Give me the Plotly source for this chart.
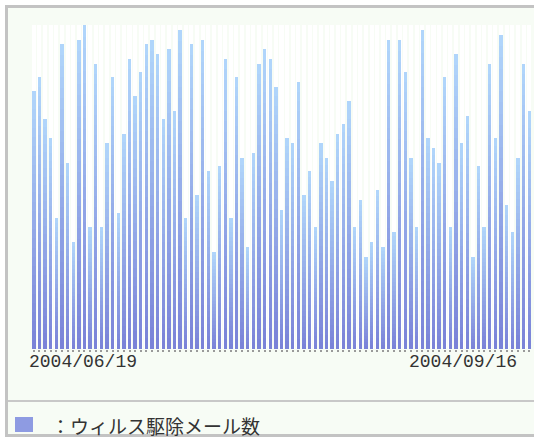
import plotly.graph_objects as go

# ---- data ----
start_label = "2004/06/19"
end_label = "2004/09/16"
legend_label = "：ウィルス駆除メール数"
virus_counts = [
    258, 272, 230, 211, 131, 305, 186, 107, 309, 324,
    122, 285, 122, 206, 272, 136, 215, 290, 253, 277,
    305, 309, 295, 230, 300, 238, 319, 131, 305, 154,
    309, 178, 97, 183, 290, 131, 272, 191, 102, 196,
    285, 300, 290, 262, 139, 211, 206, 267, 154, 178,
    122, 206, 191, 168, 215, 225, 248, 122, 149, 92,
    107, 159, 102, 309, 117, 309, 277, 191, 122, 319,
    211, 201, 186, 272, 122, 295, 206, 233, 92, 183,
    122, 285, 211, 314, 144, 117, 191, 285, 238,
]
days = list(range(len(virus_counts)))

# ---- styling ----
W, H = 534, 438
L, R, T, B = 31, 2, 25, 89
ymax = max(virus_counts)
bottom_rgb = (122, 131, 216)
top_rgb = (178, 216, 252)
N = 28

def mix(t):
    return "rgb({},{},{})".format(*[round(a + (b - a) * t) for a, b in zip(bottom_rgb, top_rgb)])

fig = go.Figure()

# white slot columns behind each bar
fig.add_trace(go.Bar(x=days, y=[ymax] * len(days), width=0.72,
                     marker=dict(color="#ffffff", line=dict(width=0)),
                     hoverinfo="skip", showlegend=False))

# gradient bars: overlapping layers, each from fraction k/N to the bar top
for k in range(N):
    frac = k / N
    fig.add_trace(go.Bar(
        x=days,
        y=[v * (1 - frac) for v in virus_counts],
        base=[v * frac for v in virus_counts],
        width=0.6,
        marker=dict(color=mix(frac), line=dict(width=0)),
        hoverinfo="skip", showlegend=False,
    ))

pw = W - L - R
ph = H - T - B

def px_x(p):
    return (p - L) / pw

def px_y(p):
    return (H - B - p) / ph

shapes = [
    # outer panel
    dict(type="rect", xref="paper", yref="paper", layer="below",
         x0=px_x(6.5), x1=px_x(560), y0=px_y(6.5), y1=px_y(435.5),
         line=dict(color="#c3c3c3", width=3), fillcolor="#f7fcf5"),
    # separator above legend
    dict(type="line", xref="paper", yref="paper",
         x0=px_x(8), x1=px_x(560), y0=px_y(401), y1=px_y(401),
         line=dict(color="#c8c8c8", width=2)),
    # legend swatch
    dict(type="rect", xref="paper", yref="paper",
         x0=px_x(15), x1=px_x(33), y0=px_y(432), y1=px_y(417),
         line=dict(width=0), fillcolor="#8e9be2"),
]

annotations = [
    dict(text=start_label, xref="x", x=days[0], xanchor="left", xshift=-7,
         yref="paper", y=0, yanchor="top", yshift=-1, showarrow=False,
         font=dict(family="Liberation Mono", size=18, color="#333333")),
    dict(text=end_label, xref="x", x=days[-1], xanchor="right", xshift=-10,
         yref="paper", y=0, yanchor="top", yshift=-1, showarrow=False,
         font=dict(family="Liberation Mono", size=18, color="#333333")),
    dict(text=legend_label, xref="paper", x=px_x(49), xanchor="left",
         yref="paper", y=px_y(425), yanchor="middle", showarrow=False,
         font=dict(family="Noto Sans CJK JP", size=19, color="#333333")),
]

fig.update_layout(
    width=W, height=H,
    margin=dict(l=L, r=R, t=T, b=B, pad=0),
    paper_bgcolor="#ffffff",
    plot_bgcolor="#f7fcf5",
    barmode="overlay",
    bargap=0,
    shapes=shapes,
    annotations=annotations,
    xaxis=dict(range=[-0.5, len(days) - 0.5], showgrid=False, zeroline=False,
               showline=False, showticklabels=False, tickmode="linear",
               tick0=0, dtick=1, ticks="outside", ticklen=2, tickwidth=1.5,
               tickcolor="#9a9a9a", fixedrange=True),
    yaxis=dict(range=[0, ymax], showgrid=False, zeroline=False,
               showline=False, showticklabels=False, fixedrange=True),
)

fig.write_html(
    "out.html",
    config={"displayModeBar": False},
    post_script="document.body.style.margin='0';document.body.style.overflow='hidden';",
)
